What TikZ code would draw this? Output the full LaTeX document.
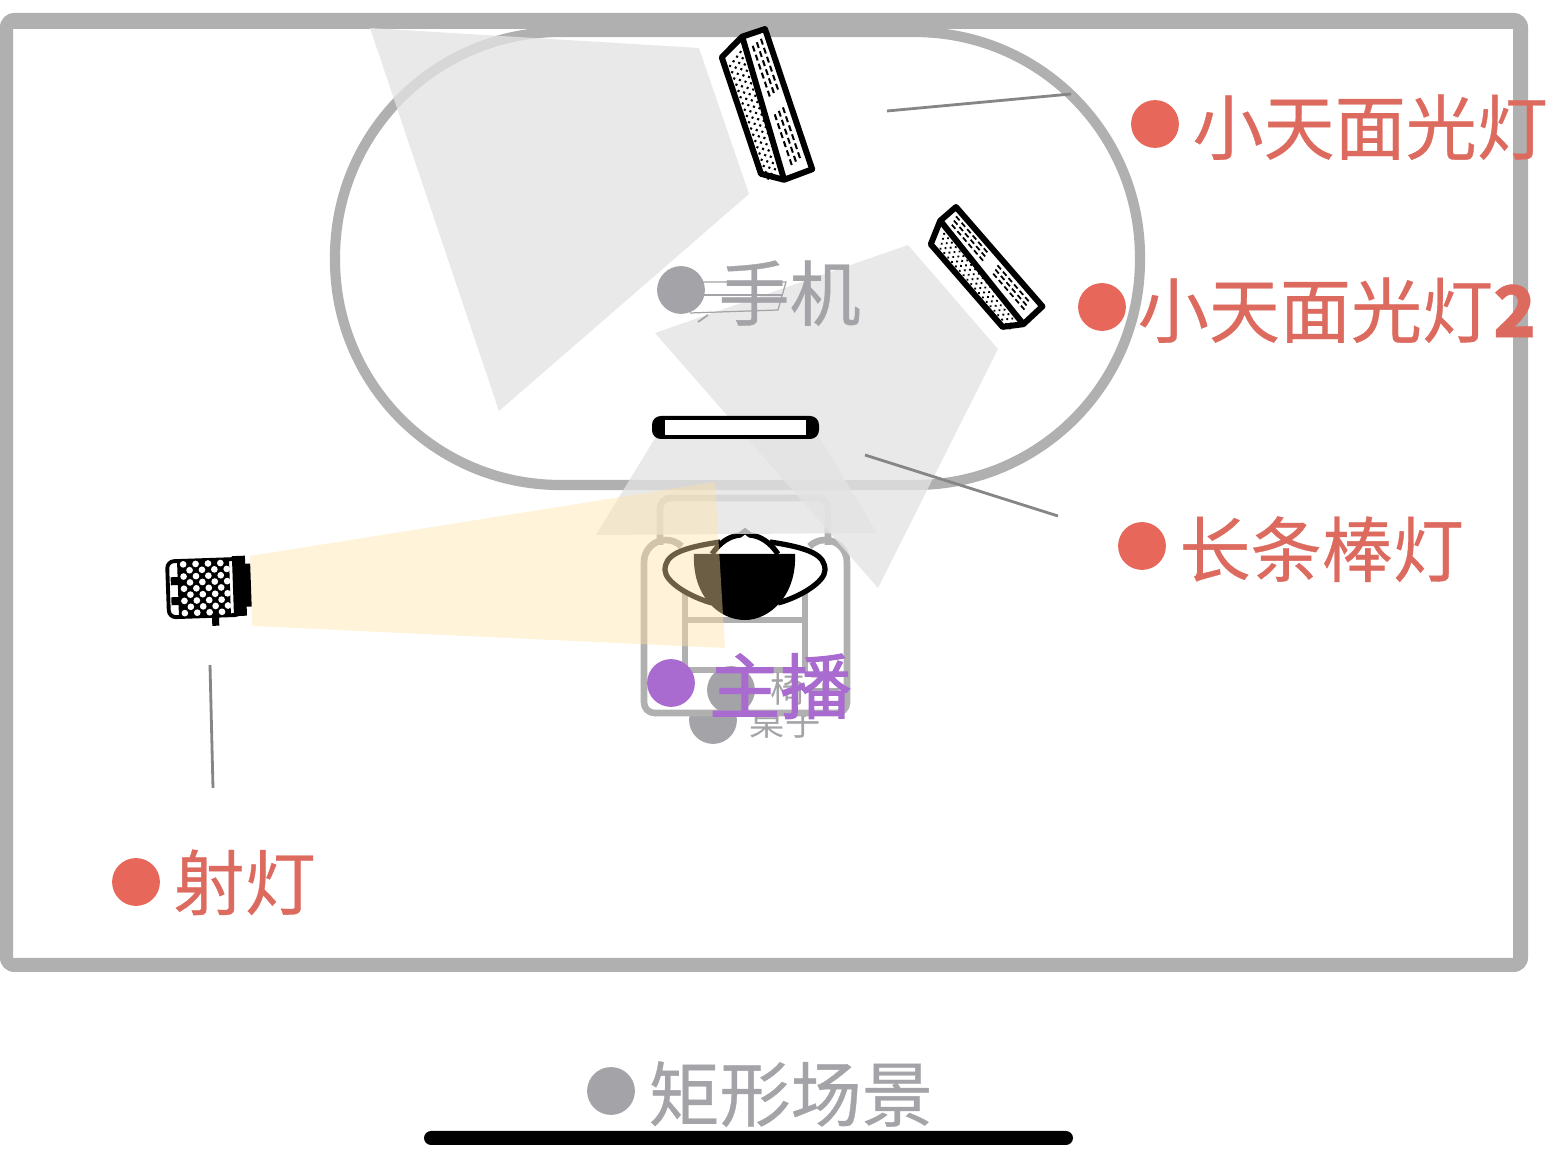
\documentclass[tikz,border=0pt]{standalone}
\usepackage{fontspec}
\setmainfont{Noto Sans CJK SC}
\usetikzlibrary{positioning}
\definecolor{framegray}{HTML}{B0B0B0}
\definecolor{beamgray}{HTML}{E3E3E3}
\definecolor{beamyellow}{HTML}{FFE2A4}
\definecolor{dotgray}{HTML}{A3A3A8}
\definecolor{dotred}{HTML}{E7675A}
\definecolor{txtred}{HTML}{DD6A5E}
\definecolor{dotpurple}{HTML}{A96BD0}
\tikzset{
    beam/.style={fill=beamgray,opacity=.78},
    yellowbeam/.style={fill=beamyellow,opacity=.42},
    wall/.style={fill=framegray,even odd rule},
    chairline/.style={draw=framegray,line width=1.9pt,rounded corners=3pt},
    leader/.style={draw=gray!95,line width=.8pt},
    dot/.style={circle,minimum size=13.6pt,inner sep=0pt,fill=#1},
    lbl/.style={inner sep=0pt,yshift=-.9pt,font=\fontsize{20.2pt}{22pt}\selectfont\addfontfeature{FakeBold=.5},text=#1},
    panellight/.pic={
        \draw[line width=1.7pt,fill=white,line join=round] (0,0) -- (0,24) -- (13,50) -- (136,50) -- (149,30) -- (148,0) -- cycle;
        \draw[line width=1.7pt] (0,24) -- (149,30);
        \foreach \i in {0,...,18}{
            \foreach \j in {0,1,2,3}{
                \fill (14+\i*6.6+\j*3.3,30.5+\j*4.8) circle (.42pt);
            }
        }
        \foreach \i in {0,...,5}{
            \foreach \j in {0,1,2}{
                \fill (8+\i*9.5+\j*2,6+\j*5) rectangle +(6,2);
                \fill (80+\i*9.5+\j*2,7+\j*5) rectangle +(6,2);
            }
        }
    }
}
\begin{document}
\begin{tikzpicture}[x=.01cm,y=-.01cm]
    \useasboundingbox (0,0) rectangle (1553,1170);
    \fill[wall,rounded corners=4pt] (0,13) rectangle (1528,972) [sharp corners] (13,29) rectangle (1513,958);
    \draw[draw=framegray,line width=2.9pt,rounded corners=2.25cm] (335,32) rectangle (1140,485);

    \node[dot=dotgray] (tabledot) at (713,720) {};
    \node[inner sep=0pt,text=dotgray,font=\fontsize{10pt}{11pt}\selectfont] (tabletxt) at (785,722) {桌子};

    \draw[chairline] (660,545) -- (660,498) -- (828,498) -- (828,545);
    \fill[white,rounded corners=2pt] (646,560) rectangle (845,711);
    \draw[chairline,rounded corners=0pt] (644,562) arc[start angle=180,end angle=315,radius=22];
    \draw[chairline,rounded corners=0pt] (847,562) arc[start angle=360,end angle=225,radius=22];
    \draw[chairline] (644,562) -- (644,713) -- (847,713) -- (847,562);
    \draw[chairline,rounded corners=0pt] (685,590) -- (685,670) -- (805,670) -- (805,590);
    \draw[chairline,rounded corners=0pt] (685,620) -- (805,620);

    \draw[line width=1.5pt,fill=white] (720,542) .. controls (680,548) and (665,555) .. (665,570) .. controls (665,582) and (690,597) .. (712,603);
    \draw[line width=1.5pt,fill=white] (770,542) .. controls (810,548) and (825,555) .. (825,570) .. controls (825,582) and (800,597) .. (778,603);
    \draw[line width=1.5pt,fill=white] (712,554) .. controls (720,542) and (730,536) .. (740,535) -- (745,531) -- (750,535) .. controls (760,536) and (770,542) .. (778,554);
    \fill (694,554) -- (795,554) .. controls (797,595) and (770,620) .. (745,620) .. controls (718,620) and (692,595) .. (694,554) -- cycle;

    \fill[beam] (370,28) -- (699,48) -- (749,194) -- (499,411) -- cycle;
    \fill[beam] (655,333) -- (908,245) -- (998,349) -- (878,588) -- cycle;
    \fill[beam] (660,430) -- (815,430) -- (877,533) -- (596,535) -- cycle;
    \fill[yellowbeam] (250,556) -- (715,482) -- (725,648) -- (252,626) -- cycle;

    \fill[rounded corners=2.5pt] (652,416) rectangle (819,439);
    \fill[white] (665,420) rectangle (806,435);

    \pic[rotate=-71.4] at (765,29) {panellight};
    \pic[rotate=-49,xscale=.89,yscale=.87] at (956,207) {panellight};

    \begin{scope}[shift={(208,588)},rotate=2]
        \draw[line width=1.1pt,fill=white,rounded corners=2pt] (-40,-28) rectangle (33,28);
        \fill (-30,-28) rectangle (22,28);
        \foreach \i in {0,...,3}{
            \foreach \j in {0,...,8}{
                \pgfmathsetmacro{\hexshift}{6.2*mod(\j,2)}
                \fill[white] (-24+\i*12.4+\hexshift,-24.5+\j*6.1) circle (.95pt);
            }
        }
        \fill (25,-31) rectangle (38,29);
        \fill (36,-23) rectangle (43,20);
        \fill (3,27) rectangle (10,38);
        \fill (-37,-12) rectangle (-28,-4);
        \fill (-37,8) rectangle (-28,16);
    \end{scope}

    \draw[dotgray,line width=.35pt] (703,282) -- (786,282) -- (778,310) -- (690,313);
    \draw[dotgray,line width=.35pt] (703,295) -- (783,295);
    \draw[dotgray,line width=.5pt] (698,322) -- (708,315);

    \coordinate (toppanelend) at (887,111);
    \coordinate (toppanellabel) at (1071,94);
    \coordinate (barend) at (865,455);
    \coordinate (barlabel) at (1058,516);
    \coordinate (spotend) at (210,665);
    \coordinate (spotlabel) at (213,788);
    \draw[leader] (toppanelend) -- (toppanellabel);
    \draw[leader] (barend) -- (barlabel);
    \draw[leader] (spotend) -- (spotlabel);

    \node[dot=dotgray] (chairdot) at (731,690) {};
    \node[inner sep=0pt,text=dotgray,font=\fontsize{10pt}{11pt}\selectfont] (chairtxt) at (806,689) {椅子};

    \node[dot=dotred] (panelonedot) at (1155,124) {};
    \node[lbl=txtred,right=3.5pt of panelonedot] (panelonetxt) {小天面光灯};
    \node[dot=dotred] (paneltwodot) at (1102,307) {};
    \node[lbl=txtred,right=3pt of paneltwodot] (paneltwotxt) {小天面光灯\textbf{2}};
    \node[dot=dotred] (bardot) at (1142,546) {};
    \node[lbl=txtred,right=3.5pt of bardot] (bartxt) {长条棒灯};
    \node[dot=dotred] (spotdot) at (136,882) {};
    \node[lbl=txtred,right=3.5pt of spotdot,yshift=.8pt] (spottxt) {射灯};
    \node[dot=dotgray] (phonedot) at (681,290) {};
    \node[lbl=dotgray,right=3.5pt of phonedot] (phonetxt) {手机};
    \node[dot=dotpurple] (hostdot) at (671,683) {};
    \node[lbl=dotpurple,right=3.7pt of hostdot] (hosttxt) {\addfontfeature{FakeBold=1.6}主播};
    \node[dot=dotgray] (scenedot) at (611,1091) {};
    \node[lbl=dotgray,right=3.5pt of scenedot] (scenetxt) {矩形场景};

    \fill[rounded corners=2pt] (424,1131) rectangle (1073,1145);
\end{tikzpicture}
\end{document}
